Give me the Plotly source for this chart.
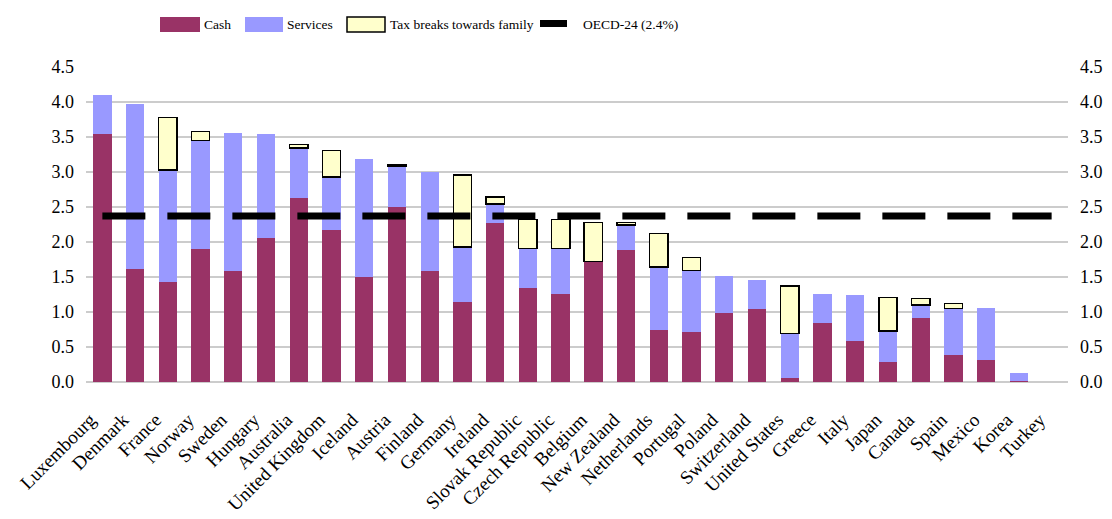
import plotly.graph_objects as go

countries = ["Luxembourg", "Denmark", "France", "Norway", "Sweden", "Hungary", "Australia",
             "United Kingdom", "Iceland", "Austria", "Finland", "Germany", "Ireland",
             "Slovak Republic", "Czech Republic", "Belgium", "New Zealand", "Netherlands",
             "Portugal", "Poland", "Switzerland", "United States", "Greece", "Italy", "Japan",
             "Canada", "Spain", "Mexico", "Korea", "Turkey"]

cash = [3.54, 1.61, 1.43, 1.90, 1.58, 2.06, 2.63, 2.17, 1.50, 2.50, 1.58, 1.15, 2.27,
        1.34, 1.26, 1.72, 1.88, 0.74, 0.72, 0.99, 1.04, 0.06, 0.84, 0.59, 0.29,
        0.91, 0.38, 0.32, 0.02, 0.0]
services = [0.56, 2.36, 1.60, 1.55, 1.98, 1.48, 0.71, 0.76, 1.69, 0.58, 1.42, 0.78, 0.27,
            0.57, 0.65, 0.0, 0.36, 0.90, 0.87, 0.52, 0.42, 0.63, 0.42, 0.65, 0.44,
            0.19, 0.67, 0.74, 0.11, 0.0]
tax_breaks = [0.0, 0.0, 0.75, 0.13, 0.0, 0.0, 0.05, 0.38, 0.0, 0.02, 0.0, 1.03, 0.10,
              0.41, 0.41, 0.56, 0.04, 0.48, 0.19, 0.0, 0.0, 0.68, 0.0, 0.0, 0.48,
              0.09, 0.07, 0.0, 0.0, 0.0]
oecd_avg = 2.37

series_names = ["Cash", "Services", "Tax breaks towards family", "OECD-24 (2.4%)"]

y_ticks = [0.0, 0.5, 1.0, 1.5, 2.0, 2.5, 3.0, 3.5, 4.0, 4.5]
y_tick_labels = ["0.0", "0.5", "1.0", "1.5", "2.0", "2.5", "3.0", "3.5", "4.0", "4.5"]

FONT = "Liberation Serif"
C_CASH = "#993366"
C_SERV = "#9999FF"
C_TAX = "#FFFFCC"

# the page body has an 8px margin, so the figure sits at (8, 8) in the window
OFF = 8
W, H = 1112 - OFF, 519 - OFF
ML, MT = 86 - OFF, 67 - OFF
MR = W - (1068 - OFF)
MB = H - (382 - OFF)
PW, PH = W - ML - MR, H - MT - MB


def px_x(px):
    return (px - OFF - ML) / PW


def px_y(py):
    return (H - MB - (py - OFF)) / PH


fig = go.Figure()
fig.add_trace(go.Bar(x=countries, y=cash, name=series_names[0],
                     marker=dict(color=C_CASH, line=dict(width=0))))
fig.add_trace(go.Bar(x=countries, y=services, name=series_names[1],
                     marker=dict(color=C_SERV, line=dict(width=0))))
fig.add_trace(go.Bar(x=countries, y=[v if v > 0 else None for v in tax_breaks],
                     name=series_names[2],
                     marker=dict(color=C_TAX, line=dict(color="#000000", width=1.5))))
fig.add_trace(go.Scatter(x=countries, y=[oecd_avg] * len(countries), name=series_names[3],
                         mode="lines",
                         line=dict(color="#000000", width=7, dash="43px,22px")))
fig.add_trace(go.Scatter(x=[countries[0]], y=[0], yaxis="y2", showlegend=False,
                         mode="markers", marker=dict(opacity=0), hoverinfo="skip"))

# custom legend (wide swatches like the original), positions in window pixels
legend_items = [
    (160, 200, 17, 32, C_CASH, None, 202),
    (245, 283, 17, 32, C_SERV, None, 285),
    (347, 385, 17, 32, C_TAX, "#000000", 388),
    (540, 567, 20, 27, "#000000", None, 581),
]
shapes = []
annotations = []
for (x0, x1, y0, y1, fill, border, tx), label in zip(legend_items, series_names):
    shapes.append(dict(type="rect", xref="paper", yref="paper",
                       x0=px_x(x0), x1=px_x(x1), y0=px_y(y1), y1=px_y(y0),
                       fillcolor=fill,
                       line=dict(color=border if border else fill,
                                 width=1.5 if border else 0)))
    annotations.append(dict(xref="paper", yref="paper", x=px_x(tx), y=px_y(24.5),
                            xanchor="left", yanchor="middle", text=label,
                            showarrow=False,
                            font=dict(family=FONT, size=13.5, color="#000000")))

fig.update_layout(
    width=W, height=H,
    barmode="stack",
    bargap=0.44,
    showlegend=False,
    plot_bgcolor="white",
    paper_bgcolor="white",
    font=dict(family=FONT, size=17, color="#000000"),
    margin=dict(l=ML, r=MR, t=MT, b=MB),
    shapes=shapes,
    annotations=annotations,
    xaxis=dict(tickangle=-45, showgrid=False, showline=False, ticks="",
               tickfont=dict(size=19), range=[-0.5, 29.5], automargin=False,
               ticklabelstandoff=22, ticklabelshift=-12),
    yaxis=dict(range=[0, 4.5], tickvals=y_ticks, ticktext=y_tick_labels,
               showgrid=True, gridcolor="#CCCCCC", gridwidth=1.5,
               zeroline=True, zerolinecolor="#CCCCCC", zerolinewidth=1.5,
               showline=False, ticks="", tickfont=dict(size=18),
               ticklabelstandoff=11, automargin=False),
    yaxis2=dict(range=[0, 4.5], tickvals=y_ticks, ticktext=y_tick_labels,
                overlaying="y", side="right", showgrid=False, zeroline=False,
                showline=False, ticks="", tickfont=dict(size=18),
                ticklabelstandoff=11, automargin=False),
)

fig.write_html("out.html")
